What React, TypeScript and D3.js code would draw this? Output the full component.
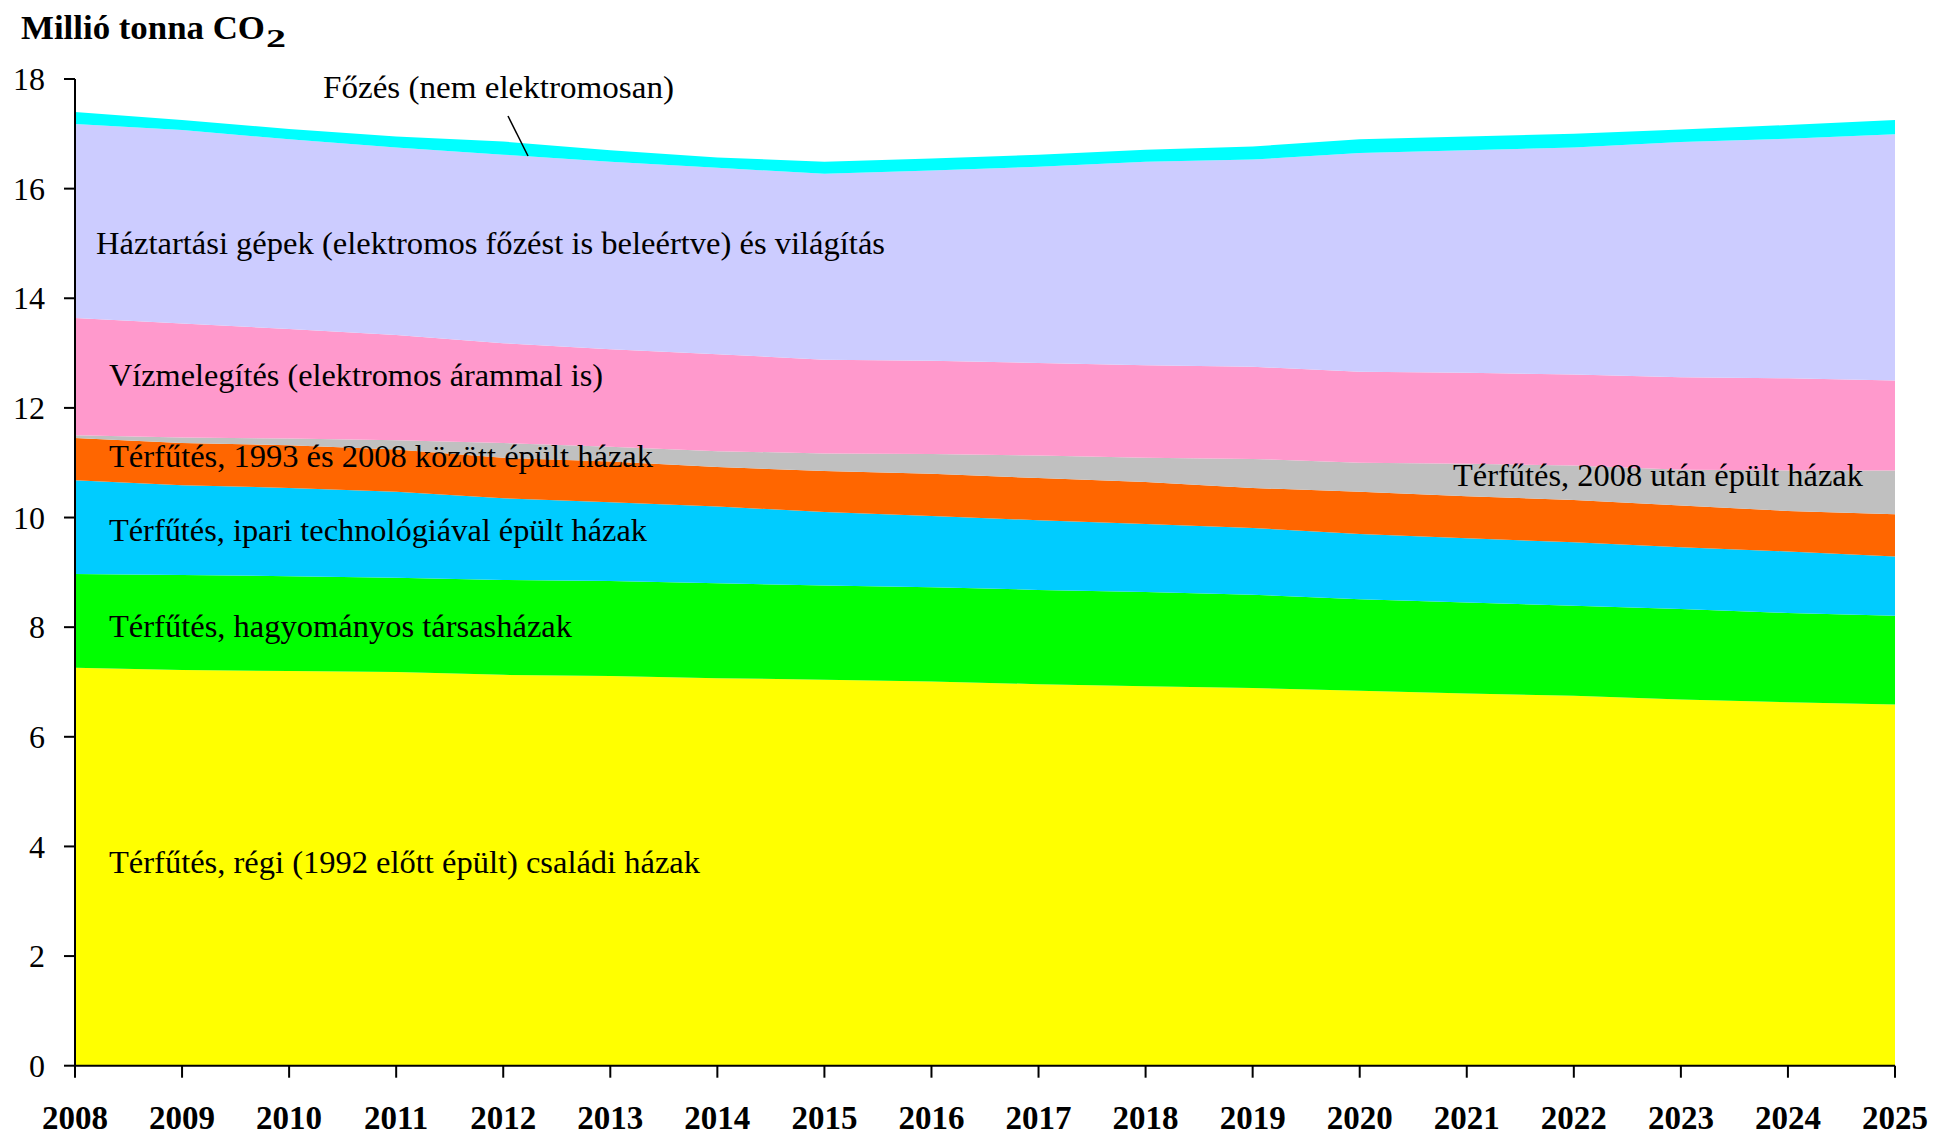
import React from 'react';
import * as d3 from 'd3';

const years = [2008, 2009, 2010, 2011, 2012, 2013, 2014, 2015, 2016, 2017, 2018, 2019, 2020, 2021, 2022, 2023, 2024, 2025];
const yTicks = [0, 2, 4, 6, 8, 10, 12, 14, 16, 18];

const regi = [7.26, 7.22, 7.20, 7.18, 7.13, 7.11, 7.07, 7.04, 7.01, 6.96, 6.92, 6.89, 6.84, 6.79, 6.75, 6.68, 6.63, 6.59];
const tarsashaz = [1.71, 1.73, 1.73, 1.72, 1.73, 1.73, 1.73, 1.72, 1.72, 1.72, 1.72, 1.70, 1.67, 1.66, 1.64, 1.65, 1.63, 1.62];
const ipari = [1.71, 1.64, 1.61, 1.57, 1.49, 1.44, 1.40, 1.34, 1.30, 1.27, 1.24, 1.22, 1.19, 1.17, 1.16, 1.13, 1.12, 1.08];
const h1993 = [0.77, 0.77, 0.78, 0.77, 0.74, 0.74, 0.72, 0.75, 0.77, 0.77, 0.77, 0.73, 0.77, 0.77, 0.77, 0.76, 0.74, 0.77];
const h2008 = [0.05, 0.10, 0.12, 0.17, 0.27, 0.27, 0.29, 0.32, 0.36, 0.41, 0.44, 0.53, 0.53, 0.59, 0.63, 0.65, 0.74, 0.80];
const viz = [2.14, 2.08, 2.00, 1.92, 1.82, 1.78, 1.77, 1.71, 1.70, 1.69, 1.69, 1.68, 1.66, 1.66, 1.66, 1.69, 1.68, 1.64];
const gepek = [3.54, 3.53, 3.46, 3.42, 3.44, 3.42, 3.40, 3.39, 3.47, 3.58, 3.71, 3.78, 3.99, 4.06, 4.14, 4.29, 4.37, 4.49];
const fozes = [0.22, 0.18, 0.19, 0.20, 0.24, 0.21, 0.19, 0.22, 0.22, 0.22, 0.22, 0.24, 0.25, 0.25, 0.25, 0.23, 0.25, 0.26];

const seriesKeys = ['regi', 'tarsashaz', 'ipari', 'h1993', 'h2008', 'viz', 'gepek', 'fozes'];
const seriesValues = [regi, tarsashaz, ipari, h1993, h2008, viz, gepek, fozes];
const seriesColors = ['#FFFF00', '#00FF00', '#00CCFF', '#FF6600', '#C0C0C0', '#FF99CC', '#CCCCFF', '#00FFFF'];

const labels = [
  { text: 'Főzés (nem elektromosan)', x: 323, y: 98, w: 351 },
  { text: 'Háztartási gépek (elektromos főzést is beleértve) és világítás', x: 96, y: 254, w: 789 },
  { text: 'Vízmelegítés (elektromos árammal is)', x: 109, y: 386, w: 494 },
  { text: 'Térfűtés, 1993 és 2008 között épült házak', x: 109, y: 467, w: 544 },
  { text: 'Térfűtés, 2008 után épült házak', x: 1453, y: 486, w: 410 },
  { text: 'Térfűtés, ipari technológiával épült házak', x: 109, y: 541, w: 538 },
  { text: 'Térfűtés, hagyományos társasházak', x: 109, y: 637, w: 463 },
  { text: 'Térfűtés, régi (1992 előtt épült) családi házak', x: 109, y: 873, w: 591 },
];

const FONT = '"Liberation Serif", "Times New Roman", Times, serif';

export default function App() {
  const W = 1935;
  const H = 1137;
  const x = d3.scaleLinear().domain([2008, 2025]).range([75, 1895]);
  const y = d3.scaleLinear().domain([0, 18]).range([1065.7, 79]);

  const rows = years.map((yr, i) => {
    const r: any = { year: yr };
    seriesKeys.forEach((k, j) => { r[k] = seriesValues[j][i]; });
    return r;
  });
  const stacked = d3.stack().keys(seriesKeys)(rows);
  const area = d3.area<any>()
    .x((d: any) => x(d.data.year))
    .y0((d: any) => y(d[0]))
    .y1((d: any) => y(d[1]));

  const x0 = x(2008);
  const x1 = x(2025);
  const yb = y(0);

  return (
    <svg width={W} height={H} style={{ position: 'absolute', left: 0, top: 0, display: 'block', background: '#fff' }}>
      {stacked.map((s: any, i: number) => (
        <path key={seriesKeys[i]} d={area(s) || ''} fill={seriesColors[i]} stroke="none" />
      ))}
      {/* leader line */}
      <line x1={508} y1={116} x2={528} y2={156} stroke="#000" strokeWidth={1.5} />
      {labels.map((l) => (
        <text key={l.text} x={l.x} y={l.y} fontFamily={FONT} fontSize={32} fill="#000"
          textLength={l.w} lengthAdjust="spacingAndGlyphs">{l.text}</text>
      ))}
      {/* y axis */}
      <line x1={x0} y1={y(18)} x2={x0} y2={yb} stroke="#000" strokeWidth={2} />
      {yTicks.map((t) => (
        <g key={'yt' + t}>
          <line x1={x0 - 11} x2={x0} y1={y(t)} y2={y(t)} stroke="#000" strokeWidth={2} />
          <text x={45} y={y(t)} dy="0.35em" textAnchor="end" fontFamily={FONT} fontSize={32} fill="#000">{t}</text>
        </g>
      ))}
      {/* x axis */}
      <line x1={x0} y1={yb} x2={x1} y2={yb} stroke="#000" strokeWidth={2} />
      {years.map((yr) => (
        <g key={'xt' + yr}>
          <line x1={x(yr)} x2={x(yr)} y1={yb} y2={yb + 12} stroke="#000" strokeWidth={2} />
          <text x={x(yr)} y={1129} textAnchor="middle" fontFamily={FONT} fontSize={33} fontWeight="bold" fill="#000">{yr}</text>
        </g>
      ))}
      {/* title */}
      <text x={21} y={39} fontFamily={FONT} fontSize={33} fontWeight="bold" fill="#000" textLength={244} lengthAdjust="spacingAndGlyphs">Millió tonna CO</text>
      <text x={266} y={47} fontFamily={FONT} fontSize={26} fontWeight="bold" fill="#000" textLength={20} lengthAdjust="spacingAndGlyphs">2</text>
    </svg>
  );
}
